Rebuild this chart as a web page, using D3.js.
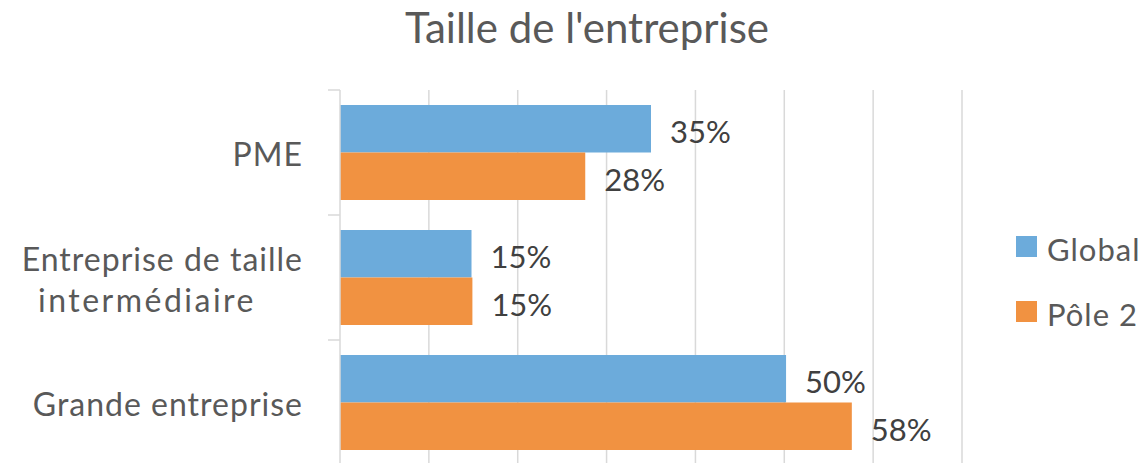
<!DOCTYPE html>
<html><head><meta charset="utf-8">
<script src="https://cdn.jsdelivr.net/npm/d3@7"></script>
<style>body{margin:0;background:#fff;}svg{display:block;font-family:Lato,"Open Sans",sans-serif;}</style>
</head><body>
<script>
const categories = ["PME", "Entreprise de taille intermédiaire", "Grande entreprise"];
const categoryLines = [["PME"], ["Entreprise de taille", "intermédiaire"], ["Grande entreprise"]];
const seriesNames = ["Global", "Pôle 2"];
const globalValues = [0.35, 0.148, 0.502];
const pole2Values = [0.276, 0.149, 0.576];
const xTicks = [0, 0.1, 0.2, 0.3, 0.4, 0.5, 0.6, 0.7];
const colors = ["#6cabdb", "#f19241"];
const title = "Taille de l'entreprise";

const W = 1146, H = 463;
const svg = d3.select("body").append("svg").attr("width", W).attr("height", H);

const x = d3.scaleLinear().domain([0, 0.7]).range([340, 962]);
const y0 = d3.scaleBand().domain(categories).range([90, 465]).paddingInner(0.24).paddingOuter(0.12);
const y1 = d3.scaleBand().domain(seriesNames).range([0, y0.bandwidth()]);

// gridlines
svg.append("g").selectAll("line").data(xTicks.slice(1)).join("line")
  .attr("x1", d => x(d)).attr("x2", d => x(d)).attr("y1", 90).attr("y2", 465)
  .attr("stroke", "#d9d9d9").attr("stroke-width", 1.5);

// bars
const data = categories.map((c, i) => ({cat: c, vals: [globalValues[i], pole2Values[i]]}));
const groups = svg.append("g").selectAll("g").data(data).join("g")
  .attr("transform", d => `translate(0,${y0(d.cat)})`);
groups.selectAll("rect").data(d => d.vals.map((v, j) => ({v, s: seriesNames[j], j}))).join("rect")
  .attr("x", x(0)).attr("y", d => y1(d.s)).attr("width", d => x(d.v) - x(0))
  .attr("height", y1.bandwidth()).attr("fill", d => colors[d.j]);
groups.selectAll("text").data(d => d.vals.map((v, j) => ({v, s: seriesNames[j], j}))).join("text")
  .attr("x", d => x(d.v) + 19).attr("y", d => y1(d.s) + y1.bandwidth() / 2 + 14.5)
  .attr("font-size", 31).attr("fill", "#404040")
  .text(d => Math.round(d.v * 100) + "%");

// y axis line + ticks
svg.append("line").attr("x1", 340).attr("x2", 340).attr("y1", 90).attr("y2", 465)
  .attr("stroke", "#d9d9d9").attr("stroke-width", 1.5);
const tickYs = categories.map(c => y0(c) - y0.step() * y0.paddingOuter());
tickYs.push(465);
svg.append("g").selectAll("line").data(tickYs).join("line")
  .attr("x1", 328).attr("x2", 340).attr("y1", d => d).attr("y2", d => d)
  .attr("stroke", "#d9d9d9").attr("stroke-width", 1.5);

// category labels
const catG = svg.append("g");
categories.forEach((c, i) => {
  const center = y0(c) + y0.bandwidth() / 2;
  const lines = categoryLines[i];
  const lh = 41;
  lines.forEach((ln, k) => {
    const baseline = center + 13.5 + (k - (lines.length - 1) / 2) * lh;
    const t = catG.append("text").attr("y", baseline).attr("font-size", 32)
      .attr("letter-spacing", 1).attr("fill", "#595959").text(ln);
    if (lines.length > 1 && k > 0) t.attr("x", 147).attr("text-anchor", "middle").attr("letter-spacing", 2.5);
    else t.attr("x", 303).attr("text-anchor", "end");
  });
});

// title
svg.append("text").attr("x", 587).attr("y", 42.5).attr("text-anchor", "middle")
  .attr("font-size", 42).attr("fill", "#595959").text(title);

// legend
const leg = svg.append("g").selectAll("g").data(seriesNames).join("g")
  .attr("transform", (d, i) => `translate(1016,${236 + i * 65})`);
leg.append("rect").attr("width", 21).attr("height", 21).attr("fill", (d, i) => colors[i]);
leg.append("text").attr("x", 31).attr("y", 25).attr("font-size", 31).attr("letter-spacing", 1)
  .attr("fill", "#595959").text(d => d);
</script>
</body></html>
